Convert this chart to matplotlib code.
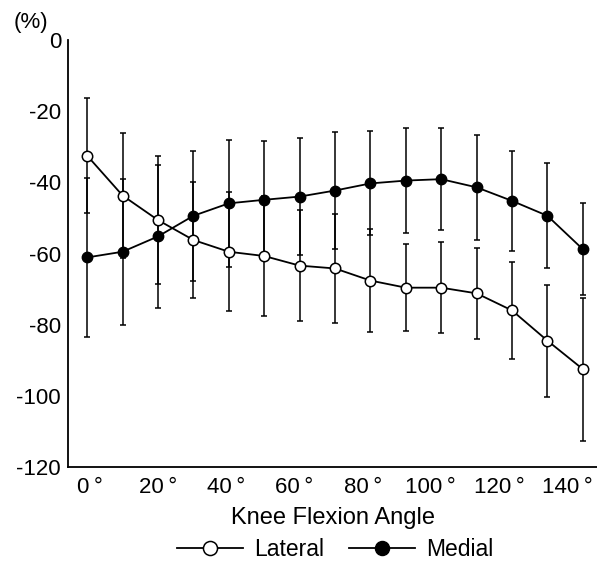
import matplotlib.pyplot as plt
import matplotlib.transforms as mtransforms
import numpy as np

plt.rcParams["font.family"] = ["Liberation Sans", "DejaVu Sans"]
plt.rcParams["axes.unicode_minus"] = False

angles = np.arange(0, 150, 10)
lateral = [-32.5, -43.7, -50.6, -56.2, -59.5, -60.7, -63.4, -64.2, -67.6,
           -69.6, -69.6, -71.2, -76.0, -84.5, -92.5]
lateral_sd = [16.2, 17.7, 17.9, 16.4, 16.7, 16.8, 15.6, 15.3, 14.5,
              12.3, 12.7, 12.8, 13.6, 15.7, 20.1]
medial = [-61.1, -59.5, -55.2, -49.4, -45.9, -44.9, -44.0, -42.3, -40.3,
          -39.5, -39.1, -41.4, -45.2, -49.4, -58.8]
medial_sd = [22.3, 20.5, 20.2, 18.3, 17.8, 16.5, 16.4, 16.4, 14.6,
             14.7, 14.4, 14.8, 14.0, 14.8, 12.9]
xtick_values = list(range(0, 150, 20))
xtick_labels = [f"{a}\u2009°" for a in xtick_values]
ytick_values = [0, -20, -40, -60, -80, -100, -120]

fig = plt.figure(figsize=(5.97, 5.64), dpi=100)
ax = fig.add_axes([0.114, 0.172, 0.886, 0.757])

ax.errorbar(angles, medial, yerr=medial_sd, fmt="none", ecolor="black",
            elinewidth=1.1, capsize=2, capthick=1.1, zorder=1)
ax.errorbar(angles, lateral, yerr=lateral_sd, fmt="none", ecolor="black",
            elinewidth=1.1, capsize=2, capthick=1.1, zorder=1)
ax.plot(angles, lateral, "-o", color="black", lw=1.3, ms=7.5,
        mfc="white", mec="black", mew=1.1, label="Lateral", zorder=3)
ax.plot(angles, medial, "-o", color="black", lw=1.3, ms=7.5,
        mfc="black", mec="black", label="Medial", zorder=3)

ax.set_xlim(-5.4, 144)
ax.set_ylim(-120, 0)
ax.set_xticks(xtick_values)
ax.set_xticklabels(xtick_labels)
ax.set_yticks(ytick_values)
ax.tick_params(length=0, labelsize=16)
ax.tick_params(axis="x", pad=7)
ax.tick_params(axis="y", pad=5)
ax.spines["top"].set_visible(False)
ax.spines["right"].set_visible(False)
ax.spines["left"].set_linewidth(1.3)
ax.spines["bottom"].set_linewidth(1.3)

# labels drift a little to the left, like in the scan
for i, lab in enumerate(ax.get_xticklabels()):
    dx = (2 - 1.9 * i) / 72
    lab.set_transform(lab.get_transform()
                      + mtransforms.ScaledTranslation(dx, 0, fig.dpi_scale_trans))

ax.set_xlabel("Knee Flexion Angle", fontsize=17, labelpad=7)
fig.text(0.022, 0.96, "(%)", fontsize=16, ha="left", va="center")

fig.legend(loc="center", bbox_to_anchor=(0.561, 0.025), ncol=2,
           frameon=False, fontsize=16.5, handlelength=2.9, handletextpad=0.45,
           columnspacing=1.1, borderaxespad=0, borderpad=0, markerscale=1.35)

fig.savefig("out.png", dpi=100)
